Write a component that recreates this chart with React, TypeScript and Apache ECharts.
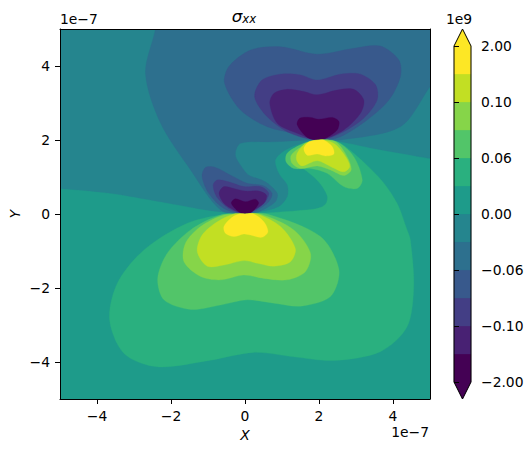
import React, { useEffect, useRef } from "react";
import * as echarts from "echarts";

const viridis12 = ["#440154", "#482173", "#433e85", "#38598c", "#2d708e", "#25858e", "#1e9b8a", "#2ab07f", "#52c569", "#86d549", "#c2df23", "#fde725"];
const positionTicks = [-4, -2, 0, 2, 4];
const colorbarLabels = ["\u22122.00", "\u22120.10", "\u22120.06", "0.00", "0.06", "0.10", "2.00"];

// Contour outlines, in units of 1e-7 on both axes.
const plotBackground = [[-6, -6], [6, -6], [6, 6], [-6, 6]];
const bandAbove0 = [[0,0],[.78,.04],[1.77,.12],[2.05,.18],[2.2,.3],[2.22,.5],[1.99,.87],[1.55,1.24],[1.36,1.3],[1.12,1.5],[1.23,1.73],[1.82,1.95],[2,2],[2.49,1.95],[2.94,1.64],[3.68,.92],[4.11,.29],[4.38,-.43],[4.47,-.7],[4.56,-1.96],[4.38,-3.05],[3.66,-3.72],[2.4,-3.96],[1.32,-3.86],[.24,-3.74],[-.93,-3.95],[-2.37,-4.13],[-3.27,-3.77],[-3.66,-2.86],[-3.45,-1.87],[-2.73,-.97],[-1.56,-.25],[-.39,.02]];
const bandBelow0 = [[-6,.75],[-5,.69],[-3.64,.56],[-2.29,.33],[-.93,.09],[-.2,.02],[0,0],[.37,.05],[.91,.2],[1.14,.47],[1.14,.78],[.91,1.1],[.82,1.46],[1.09,1.73],[1.55,1.91],[2,2],[2.58,1.95],[3.48,1.77],[5,1.5],[6,1.33],[6,6],[-6,6]];
const bandN1 = [[-2.3,6],[-2.42,5],[-2.69,3.8],[-2.28,2.45],[-1.47,1.19],[-.66,.11],[0,0],[.37,.06],[.82,.33],[.87,.56],[.55,.87],[.1,1.05],[-.03,1.19],[-.26,1.59],[-.12,1.91],[.78,1.95],[1.68,2],[2,2],[2.58,2],[4.2,2.36],[5,3.44],[6,4.8],[6,6]];
const upperN2 = [[-.55,3.53],[-.44,3.98],[.15,4.43],[.96,4.52],[1.95,4.32],[2.94,4.48],[3.66,4.54],[4.16,4.16],[4.2,3.71],[3.89,3.08],[3.3,2.54],[2.58,2.09],[2,2],[1.5,2.14],[.6,2.36],[-.12,2.81]];
const upperN3 = [[.26,3.17],[.46,3.62],[.96,3.78],[1.5,3.76],[1.95,3.62],[2.58,3.78],[3.12,3.78],[3.53,3.49],[3.57,3.08],[3.21,2.59],[2.58,2.18],[2,2],[1.23,2.18],[.6,2.63]];
const upperN4 = [[.67,2.99],[.78,3.26],[1.14,3.37],[1.59,3.31],[1.95,3.22],[2.49,3.35],[2.94,3.37],[3.21,3.08],[3.12,2.72],[2.67,2.27],[2,2],[1.41,2.18],[.87,2.45]];
const upperN5 = [[1.41,2.41],[1.48,2.59],[1.77,2.61],[1.99,2.56],[2.36,2.61],[2.54,2.5],[2.49,2.27],[2.22,2.07],[2,2],[1.68,2.07]];
const lowerN2 = [[-1.16,1.01],[-1.07,1.26],[-.8,1.26],[-.39,1.05],[.06,.83],[.51,.76],[.73,.56],[.64,.33],[.33,.11],[0,0],[-.57,.15],[-.98,.56]];
const lowerN3 = [[-.86,.78],[-.75,.92],[-.44,.87],[-.03,.74],[.42,.74],[.64,.56],[.51,.29],[.15,.04],[0,0],[-.44,.15],[-.77,.47]];
const lowerN4 = [[-.7,.56],[-.57,.74],[-.3,.69],[.01,.62],[.37,.62],[.58,.51],[.51,.29],[.1,.02],[0,0],[-.3,.11],[-.57,.29]];
const lowerN5 = [[-.37,.29],[-.26,.41],[.01,.33],[.28,.4],[.37,.29],[.19,.06],[0,0],[-.17,.06]];
const upperP2 = [[2,2],[2.49,1.95],[2.94,1.55],[3.17,.92],[3.03,.69],[2.67,.74],[2.22,1.1],[1.77,1.23],[1.32,1.23],[1.11,1.41],[1.14,1.64],[1.59,1.91]];
const upperP3 = [[2,2],[2.45,1.95],[2.76,1.55],[2.87,1.19],[2.67,1.04],[2.31,1.19],[1.95,1.3],[1.5,1.23],[1.27,1.37],[1.25,1.59],[1.59,1.86]];
const upperP4 = [[2,2],[2.4,1.91],[2.72,1.55],[2.83,1.28],[2.67,1.14],[2.36,1.26],[1.95,1.44],[1.54,1.3],[1.4,1.44],[1.41,1.64],[1.64,1.91]];
const upperP5 = [[2,2],[2.13,2],[2.36,1.82],[2.4,1.62],[2.18,1.57],[1.95,1.62],[1.68,1.59],[1.59,1.77],[1.73,1.95]];
const lowerP2 = [[0,0],[.6,0],[2.04,-.61],[2.54,-1.51],[2.31,-2.23],[1.5,-2.49],[.78,-2.41],[.06,-2.32],[-.66,-2.46],[-1.47,-2.58],[-2.19,-2.32],[-2.36,-1.74],[-2.1,-1.06],[-1.47,-.43],[-.66,-.03]];
const lowerP3 = [[0,0],[.42,0],[1.32,-.43],[1.77,-1.06],[1.63,-1.56],[1.14,-1.78],[.51,-1.74],[-.03,-1.65],[-.66,-1.78],[-1.2,-1.69],[-1.65,-1.29],[-1.61,-.79],[-1.2,-.34],[-.57,-.03]];
const lowerP4 = [[0,0],[.33,0],[.96,-.34],[1.36,-.93],[1.23,-1.29],[.78,-1.41],[.33,-1.33],[-.03,-1.26],[-.57,-1.38],[-1.02,-1.41],[-1.29,-1.02],[-1.16,-.57],[-.75,-.21],[-.3,0]];
const lowerP5 = [[0,0],[.24,0],[.51,-.21],[.62,-.48],[.46,-.63],[.15,-.57],[-.03,-.54],[-.3,-.61],[-.53,-.52],[-.57,-.34],[-.39,-.12],[-.17,0]];

const contourLayers: [number, number[][], number][] = [
  [6, plotBackground, 0],
  [7, bandAbove0, 0.3], [5, bandBelow0, 0.3], [4, bandN1, 0.3],
  [3, upperN2, 0.3], [2, upperN3, 0.3], [1, upperN4, 0.3], [0, upperN5, 0.3],
  [3, lowerN2, 0.3], [2, lowerN3, 0.3], [1, lowerN4, 0.3], [0, lowerN5, 0.3],
  [8, upperP2, 0.3], [9, upperP3, 0.3], [10, upperP4, 0.3], [11, upperP5, 0.3],
  [8, lowerP2, 0.3], [9, lowerP3, 0.3], [10, lowerP4, 0.3], [11, lowerP5, 0.3],
];

// Colour bar extent, in band units: the extend arrows reach 0.607 band past each end.
const arrowLength = 0.607;

const FONT = "DejaVu Sans";
const LABEL = 13.89;

export default function App() {
  const ref = useRef<HTMLDivElement>(null);
  useEffect(() => {
    document.body.style.margin = "0";
    const chart = echarts.init(ref.current!, null, { renderer: "svg" });
    const minus = (v: number) => String(v).replace("-", "\u2212");
    const posLabel = { customValues: positionTicks, formatter: minus, fontFamily: FONT, fontSize: LABEL, color: "#000", margin: 10 };
    const tick = { length: 5, inside: false, lineStyle: { color: "#000", width: 1 } };
    const line = { onZero: false, lineStyle: { color: "#000", width: 1 } };
    const nameStyle = { fontFamily: FONT, fontStyle: "italic", fontSize: LABEL, color: "#000" };
    chart.setOption({
      animation: false,
      backgroundColor: "#fff",
      title: {
        left: 239, top: 3, textAlign: "center",
        text: "{s|\u03c3}{x|xx}",
        textStyle: {
          rich: {
            s: { fontFamily: FONT, fontStyle: "italic", fontWeight: "normal", fontSize: 16.67, color: "#000" },
            x: { fontFamily: FONT, fontStyle: "italic", fontWeight: "normal", fontSize: 11.7, color: "#000", verticalAlign: "bottom", padding: [5, 0, 0, 0] },
          },
        },
      },
      grid: [
        { left: 60, top: 29, width: 370, height: 370, outerBoundsMode: "none" },
        { left: 454, top: 46, width: 17, height: 336, outerBoundsMode: "none" },
      ],
      xAxis: [
        { type: "value", gridIndex: 0, min: -5, max: 5, z: 10, position: "bottom", name: "X", nameLocation: "middle", nameGap: 27, nameTextStyle: nameStyle, axisLine: { show: true, ...line }, axisTick: { show: true, customValues: positionTicks, ...tick }, axisLabel: posLabel, splitLine: { show: false } },
        { type: "value", gridIndex: 0, min: -5, max: 5, z: 10, position: "top", axisLine: { show: true, ...line }, axisTick: { show: false }, axisLabel: { show: false }, splitLine: { show: false } },
        { type: "value", gridIndex: 1, min: 0, max: 1, show: false },
      ],
      yAxis: [
        { type: "value", gridIndex: 0, min: -5, max: 5, z: 10, position: "left", name: "Y", nameLocation: "middle", nameGap: 38, nameMoveOverlap: false, nameRotate: 90, nameTextStyle: nameStyle, axisLine: { show: true, ...line }, axisTick: { show: true, customValues: positionTicks, ...tick }, axisLabel: posLabel, splitLine: { show: false } },
        { type: "value", gridIndex: 0, min: -5, max: 5, z: 10, position: "right", axisLine: { show: true, ...line }, axisTick: { show: false }, axisLabel: { show: false }, splitLine: { show: false } },
        { type: "value", gridIndex: 1, min: 0, max: 12, interval: 2, z: 10, position: "right", axisLine: { show: false }, axisTick: { show: true, ...tick }, axisLabel: { formatter: (v: number) => colorbarLabels[v / 2], fontFamily: FONT, fontSize: LABEL, color: "#000", margin: 10 }, splitLine: { show: false } },
      ],
      series: [
        {
          type: "custom", coordinateSystem: "cartesian2d", xAxisIndex: 0, yAxisIndex: 0, clip: true, silent: true,
          data: contourLayers.map((_, i) => [i, i]),
          encode: { x: 0, y: 1 },
          renderItem: (params: any, api: any) => {
            const [colorIndex, pts, smooth] = contourLayers[params.dataIndex];
            return {
              type: "polygon",
              shape: { points: pts.map((p) => api.coord(p)), smooth },
              style: { fill: viridis12[colorIndex], stroke: viridis12[colorIndex], lineWidth: 0.3 },
            };
          },
        },
        {
          type: "custom", coordinateSystem: "cartesian2d", xAxisIndex: 2, yAxisIndex: 2, clip: false, silent: true,
          data: viridis12.map((_, i) => [0, i]),
          encode: { x: 0, y: 1 },
          renderItem: (params: any, api: any) => {
            const i = params.dataIndex;
            const pts = [[0, i], [1, i], [1, i + 1], [0, i + 1]];
            if (i === 0) pts.splice(1, 0, [0.5, -arrowLength]);
            if (i === 11) pts.splice(3, 0, [0.5, 12 + arrowLength]);
            return {
              type: "polygon",
              shape: { points: pts.map((p) => api.coord(p)) },
              style: { fill: viridis12[i], stroke: viridis12[i], lineWidth: 0.3 },
            };
          },
        },
        {
          type: "custom", coordinateSystem: "cartesian2d", xAxisIndex: 2, yAxisIndex: 2, clip: false, silent: true, z: 5,
          data: [[0, 0]],
          encode: { x: 0, y: 1 },
          renderItem: (_: any, api: any) => ({
            type: "polygon",
            shape: { points: [[0, 0], [0.5, -arrowLength], [1, 0], [1, 12], [0.5, 12 + arrowLength], [0, 12]].map((p) => api.coord(p)) },
            style: { fill: "none", stroke: "#000", lineWidth: 1 },
          }),
        },
      ],
      graphic: [
        { type: "text", x: 60, y: 26, style: { text: "1e\u22127", font: `${LABEL}px "${FONT}"`, fill: "#000", textAlign: "left", textVerticalAlign: "bottom" } },
        { type: "text", x: 429, y: 439, style: { text: "1e\u22127", font: `${LABEL}px "${FONT}"`, fill: "#000", textAlign: "right", textVerticalAlign: "bottom" } },
        { type: "text", x: 446, y: 26, style: { text: "1e9", font: `${LABEL}px "${FONT}"`, fill: "#000", textAlign: "left", textVerticalAlign: "bottom" } },
      ],
    });
    return () => chart.dispose();
  }, []);
  return <div ref={ref} style={{ position: "absolute", left: 0, top: 0, width: 532, height: 452 }} />;
}
